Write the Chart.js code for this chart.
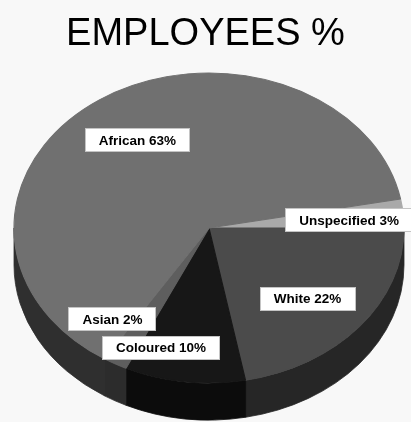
<!DOCTYPE html>
<html>
<head>
<meta charset="utf-8">
<script src="https://cdn.jsdelivr.net/npm/chart.js@4/dist/chart.umd.min.js"></script>
<style>
  html, body { margin: 0; padding: 0; background: #f8f8f8; }
  #wrap { width: 411px; height: 422px; }
</style>
</head>
<body>
<div id="wrap"><canvas id="c" width="411" height="422"></canvas></div>
<script>
// ---- data ----
const categories = ['Unspecified', 'White', 'Coloured', 'Asian', 'African'];
const shares = [3, 22, 10, 2, 63];
const chartTitle = 'EMPLOYEES %';

// ---- styles ----
const topColors  = ['#a9a9a9', '#4b4b4b', '#171717', '#5e5e5e', '#707070'];
const sideColors = ['#585858', '#262626', '#0c0c0c', '#2c2c2c', '#2f2f2f'];
// ellipse geometry of the tilted pie (screen pixels)
const GEOM = { cx: 209, cy: 228, rx: 195, ry: 155, depth: 37 };
// label placement: fraction of radius and angle offset (degrees) from slice middle
const labelPlace = [
  { r: 0.72, dAng: 1.2 },
  { r: 0.68, dAng: 2.4 },
  { r: 0.81, dAng: 10.5 },
  { r: 0.77, dAng: 11.2 },
  { r: 0.675, dAng: 1.2 }
];
const labelFont = 'bold 13.5px "Liberation Sans", Arial, sans-serif';

const TWO_PI = Math.PI * 2;

const pie3d = {
  id: 'pie3d',
  beforeDatasetsDraw(chart) {
    const ctx = chart.ctx;
    const meta = chart.getDatasetMeta(0);
    const g = GEOM;
    // side walls
    meta.data.forEach((arc, i) => {
      const span = arc.endAngle - arc.startAngle;
      const s = ((arc.startAngle % TWO_PI) + TWO_PI) % TWO_PI;
      const e = s + span;
      for (const off of [0, TWO_PI]) {
        const a = Math.max(s, off), b = Math.min(e, off + Math.PI);
        if (b > a) {
          ctx.save();
          ctx.beginPath();
          ctx.ellipse(g.cx, g.cy, g.rx, g.ry, 0, a, b, false);
          ctx.ellipse(g.cx, g.cy + g.depth, g.rx, g.ry, 0, b, a, true);
          ctx.closePath();
          ctx.fillStyle = sideColors[i];
          ctx.fill();
          ctx.strokeStyle = sideColors[i];
          ctx.lineWidth = 0.8;
          ctx.stroke();
          ctx.restore();
        }
      }
    });
    // flatten the top face
    const arc0 = meta.data[0];
    ctx.save();
    ctx.translate(g.cx, g.cy);
    ctx.scale(g.rx / arc0.outerRadius, g.ry / arc0.outerRadius);
    ctx.translate(-arc0.x, -arc0.y);
  },
  afterDatasetsDraw(chart) {
    const ctx = chart.ctx;
    ctx.restore();
    const meta = chart.getDatasetMeta(0);
    const g = GEOM;
    const vals = chart.data.datasets[0].data;
    meta.data.forEach((arc, i) => {
      const mid = (arc.startAngle + arc.endAngle) / 2 + labelPlace[i].dAng * Math.PI / 180;
      const x = g.cx + Math.cos(mid) * g.rx * labelPlace[i].r;
      const y = g.cy + Math.sin(mid) * g.ry * labelPlace[i].r;
      const text = chart.data.labels[i] + ' ' + vals[i] + '%';
      ctx.save();
      ctx.font = labelFont;
      const w = ctx.measureText(text).width + 28;
      const h = 24;
      ctx.fillStyle = '#ffffff';
      ctx.fillRect(Math.round(x - w / 2), Math.round(y - h / 2), Math.round(w), h);
      ctx.strokeStyle = '#c4c4c4';
      ctx.lineWidth = 1;
      ctx.strokeRect(Math.round(x - w / 2) + 0.5, Math.round(y - h / 2) + 0.5, Math.round(w) - 1, h - 1);
      ctx.fillStyle = '#000000';
      ctx.textAlign = 'center';
      ctx.textBaseline = 'middle';
      ctx.fillText(text, x, y + 1);
      ctx.restore();
    });
  }
};

new Chart(document.getElementById('c'), {
  type: 'pie',
  data: {
    labels: categories,
    datasets: [{
      data: shares,
      backgroundColor: topColors,
      borderColor: topColors,
      borderWidth: 1
    }]
  },
  options: {
    responsive: false,
    animation: false,
    rotation: 90 - shares[0] * 3.6,
    layout: { padding: 10 },
    plugins: {
      legend: { display: false },
      tooltip: { enabled: false },
      title: {
        display: true,
        text: chartTitle,
        color: '#000000',
        font: { family: '"Liberation Sans", Arial, sans-serif', size: 38, weight: 'normal' },
        padding: { top: 2, bottom: 10 }
      }
    }
  },
  plugins: [pie3d]
});
</script>
</body>
</html>
